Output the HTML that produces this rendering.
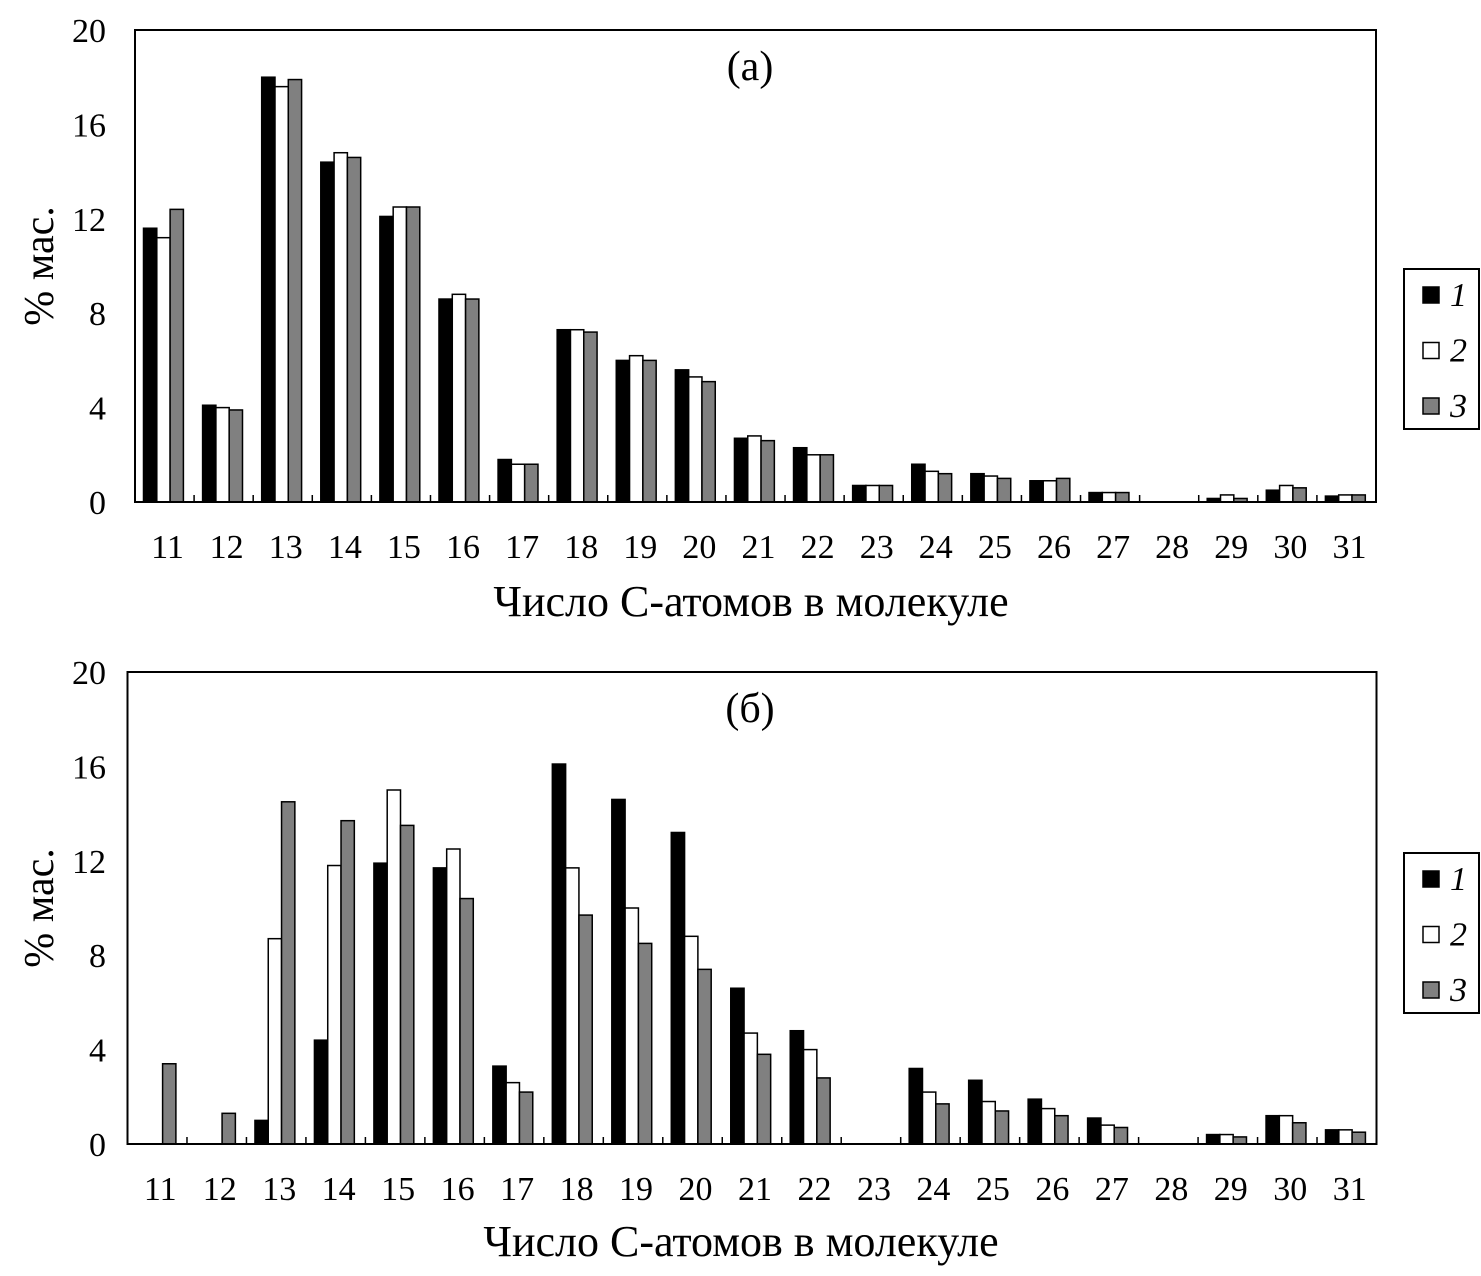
<!DOCTYPE html>
<html><head><meta charset="utf-8">
<style>
html,body{margin:0;padding:0;background:#fff;}
svg{display:block;font-family:"Liberation Serif",serif;}
</style></head>
<body>
<svg id="chart" width="1481" height="1276" viewBox="0 0 1481 1276" xmlns="http://www.w3.org/2000/svg"></svg>
<script>
const categories = ["11","12","13","14","15","16","17","18","19","20","21","22","23","24","25","26","27","28","29","30","31"];
const yTicks = [0,4,8,12,16,20];
const seriesNames = ["1","2","3"];
const a1 = [11.6,4.1,18.0,14.4,12.1,8.6,1.8,7.3,6.0,5.6,2.7,2.3,0.7,1.6,1.2,0.9,0.4,0,0.15,0.5,0.25];
const a2 = [11.2,4.0,17.6,14.8,12.5,8.8,1.6,7.3,6.2,5.3,2.8,2.0,0.7,1.3,1.1,0.9,0.4,0,0.3,0.7,0.3];
const a3 = [12.4,3.9,17.9,14.6,12.5,8.6,1.6,7.2,6.0,5.1,2.6,2.0,0.7,1.2,1.0,1.0,0.4,0,0.15,0.6,0.3];
const b1 = [0,0,1.0,4.4,11.9,11.7,3.3,16.1,14.6,13.2,6.6,4.8,0,3.2,2.7,1.9,1.1,0,0.4,1.2,0.6];
const b2 = [0,0,8.7,11.8,15.0,12.5,2.6,11.7,10.0,8.8,4.7,4.0,0,2.2,1.8,1.5,0.8,0,0.4,1.2,0.6];
const b3 = [3.4,1.3,14.5,13.7,13.5,10.4,2.2,9.7,8.5,7.4,3.8,2.8,0,1.7,1.4,1.2,0.7,0,0.3,0.9,0.5];

const NS="http://www.w3.org/2000/svg";
const svg=document.getElementById('chart');
const fills=["#000","#fff","#808080"];
function mk(tag,attrs,parent){const e=document.createElementNS(NS,tag);for(const k in attrs)e.setAttribute(k,attrs[k]);(parent||svg).appendChild(e);return e;}

function panel(id,L,R,T,B,label,series,legTop,titleX,titleY){
  const g=mk('g',{});
  
  
  const cw=(R-L)/categories.length;
  const y=v=>B-(v/20)*(B-T);
  const x=i=>L+i*cw;
  series.forEach((s,si)=>{
    s.forEach((v,i)=>{
      if(v<=0)return;
      const r=mk('rect',{x:x(i)+8.5+si*13.3,y:y(v),width:13.3,height:B-y(v),fill:fills[si],stroke:'#000','stroke-width':1.5},g);
      
      
    });
  });
  const fr=mk('rect',{x:L,y:T,width:R-L,height:B-T,fill:'none',stroke:'#000','stroke-width':2},g);
  
  
  categories.forEach((c,i)=>{
    if(i>0){mk('line',{x1:x(i),x2:x(i),y1:B-7,y2:B,stroke:'#000','stroke-width':1.5},g);}
    const t=mk('text',{x:x(i)+cw/2+3,y:B+56,'font-size':34,'text-anchor':'middle'},g);
    t.textContent=c;
    
    
  });
  yTicks.forEach(v=>{
    const t=mk('text',{x:106,y:y(v)+12,'font-size':34,'text-anchor':'end'},g);
    t.textContent=v;
    
    
  });
  const pl=mk('text',{x:750,y:T+50,'font-size':42,'text-anchor':'middle'},g);
  pl.textContent=label;
  
  
  const xt=mk('text',{x:titleX,y:titleY,'font-size':44,'text-anchor':'middle'},g);
  xt.textContent='Число С-атомов в молекуле';
  
  
  const yt=mk('text',{x:0,y:0,'font-size':42,'text-anchor':'middle',transform:'translate(53,'+((T+B)/2)+') rotate(-90)'},g);
  yt.textContent='% мас.';
  
  
  const lg=mk('g',{},g);
  
  
  mk('rect',{x:1404,y:legTop,width:75,height:160,fill:'#fff',stroke:'#000','stroke-width':2},lg);
  seriesNames.forEach((n,si)=>{
    const cy=legTop+26+si*55.5;
    const e=mk('g',{},lg);
    
    
    mk('rect',{x:1423,y:cy-8,width:16,height:16,fill:fills[si],stroke:'#000','stroke-width':1.5},e);
    const t=mk('text',{x:1450,y:cy+11,'font-size':34,'font-style':'italic'},e);
    t.textContent=n;
  });
}
panel('a',135,1376,30,502,'(а)',[a1,a2,a3],269,751,616);
panel('b',127.5,1376.5,672,1144,'(б)',[b1,b2,b3],853,741,1256);
</script>
</body></html>
